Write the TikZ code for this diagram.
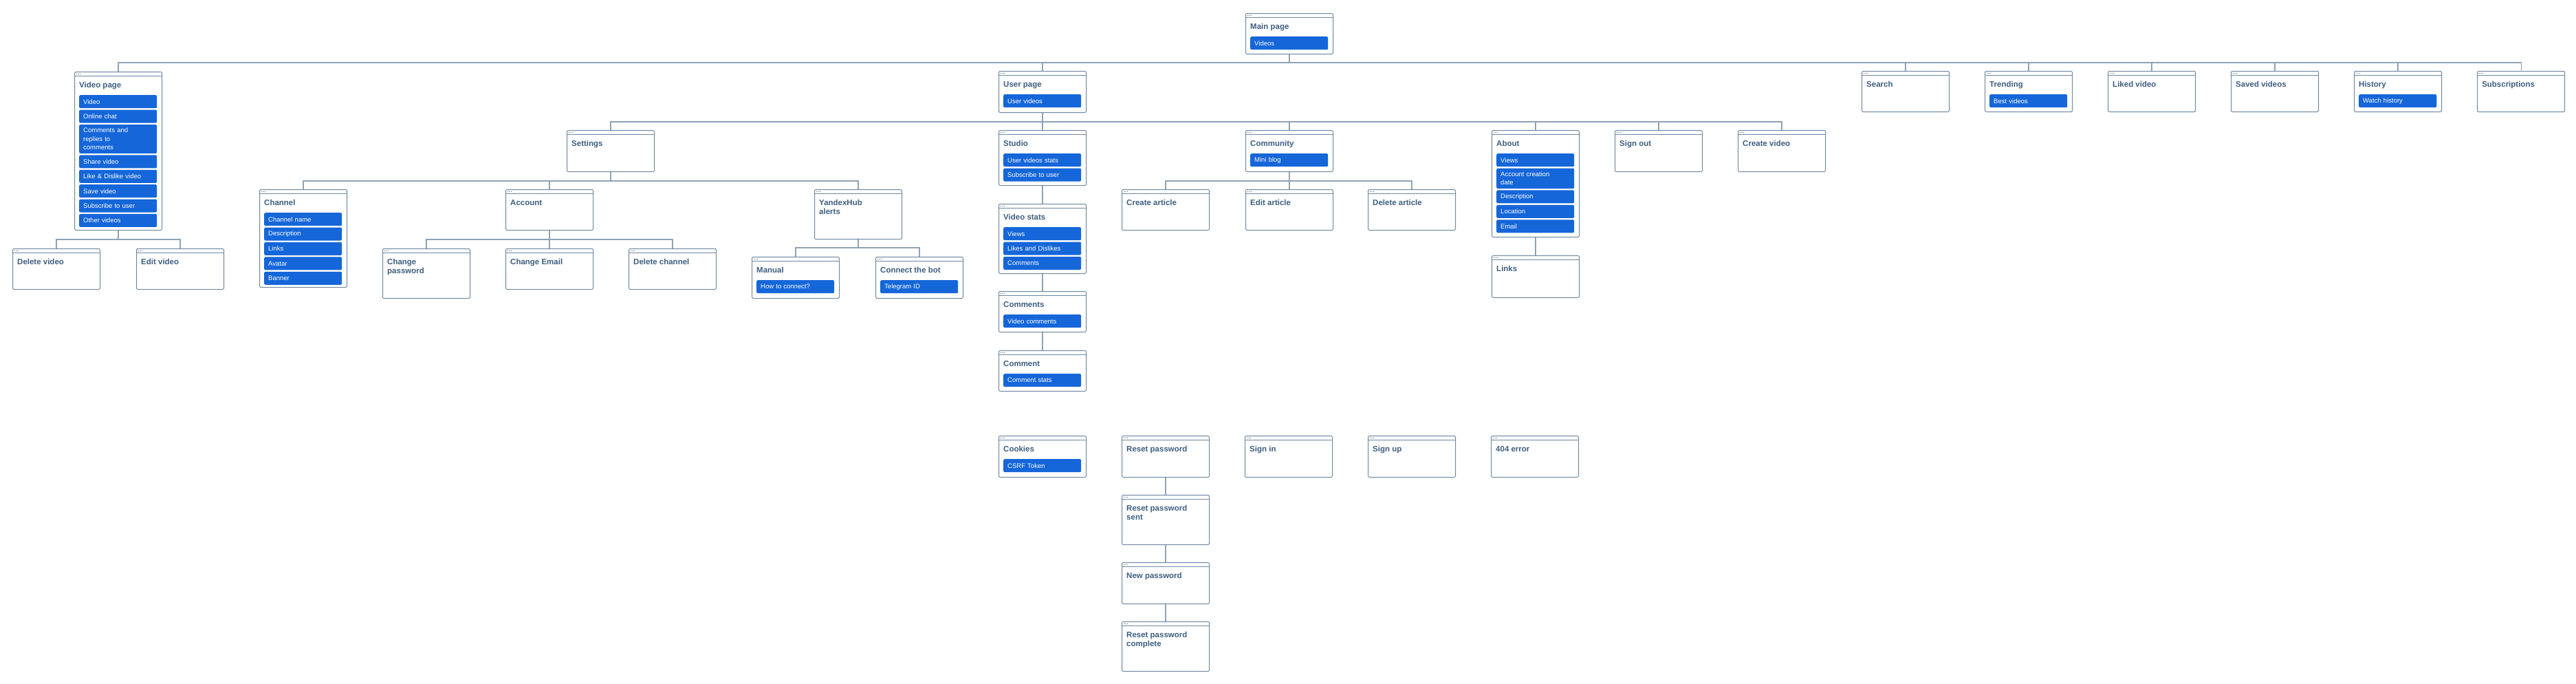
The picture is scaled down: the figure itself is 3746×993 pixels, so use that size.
\documentclass[tikz,border=0pt]{standalone}
\usepackage{xcolor}
\usepackage{fontspec}
\setmainfont{Liberation Sans}
\usetikzlibrary{positioning}

\definecolor{winline}{HTML}{6E88A1}
\definecolor{linkline}{HTML}{8DA3B6}
\definecolor{titleblue}{HTML}{3E5E80}
\definecolor{itemblue}{HTML}{1566D9}

\tikzset{
  win/.style={draw=winline, line width=1pt, fill=white, rounded corners=1.5pt,
    anchor=north west, inner sep=0pt, minimum width=127pt,
    path picture={
      \draw[winline, line width=0.8pt] ([yshift=-6pt]path picture bounding box.north west)
        -- ([yshift=-6pt]path picture bounding box.north east);
      \foreach \d in {3,5.5,8}
        \fill[winline] ([xshift=\d pt, yshift=-3pt]path picture bounding box.north west) circle (0.75pt);
    }},
  wintitle/.style={inner sep=0pt, align=left, text=titleblue,
    font=\fontsize{11.5}{12.5}\selectfont\bfseries},
  itm/.style={fill=itemblue, rounded corners=2pt, text=white, align=left,
    text width=101pt, inner xsep=6pt, inner ysep=5pt, minimum height=19pt,
    font=\fontsize{9.5}{12.5}\selectfont},
  link/.style={draw=linkline, line width=1.1pt},
}

% window: name, x, y, height, title
\newcommand\win[5]{%
  \node[win, minimum height=#4pt] (#1) at (#2,#3) {};
  \node[wintitle, below right=15pt and 7pt of #1.north west] (#1t) {#5};
}
% blue rows inside a window
\newcommand\itms[2]{%
  \foreach \t [count=\i, remember=\i as \j (initially 0)] in {#2}{
    \ifnum\i=1
      \node[itm, below right=34pt and 7pt of #1.north west] (#1-\i) {\t};
    \else
      \node[itm, below=2pt of #1-\j] (#1-\i) {\t};
    \fi
  }
}
\newcommand\branch[3]{\draw[link] (#1.south) -- ++(0,#3) -| (#2.north);}

\begin{document}
\begin{tikzpicture}[x=1pt, y=-1pt]
  \path[use as bounding box, fill=white] (0,0) rectangle (3746,993);

  %main page and first row
  \win{main}{1811}{19}{59}{Main page} \itms{main}{Videos}
  \win{video}{108}{104}{230}{Video page}
  \itms{video}{Video, Online chat, {Comments and\\replies to\\comments}, Share video,
    Like \& Dislike video, Save video, Subscribe to user, Other videos}
  \win{user}{1452}{103}{60}{User page} \itms{user}{User videos}
  \win{search}{2707}{103}{59}{Search}
  \win{trend}{2886}{103}{59}{Trending} \itms{trend}{Best videos}
  \win{liked}{3065}{103}{59}{Liked video}
  \win{saved}{3244}{103}{59}{Saved videos}
  \win{hist}{3423}{103}{59}{History} \itms{hist}{Watch history}
  \win{subs}{3602}{103}{59}{Subscriptions}

  %video page
  \win{delvid}{18}{361}{59}{Delete video}
  \win{editvid}{198}{361}{59}{Edit video}

  %user page
  \win{settings}{824}{189}{60}{Settings}
  \win{studio}{1452}{189}{80}{Studio} \itms{studio}{User videos stats, Subscribe to user}
  \win{comm}{1811}{189}{60}{Community} \itms{comm}{Mini blog}
  \win{about}{2169}{189}{155}{About}
  \itms{about}{Views, {Account creation\\date}, Description, Location, Email}
  \win{signout}{2348}{189}{60}{Sign out}
  \win{newvid}{2527}{189}{60}{Create video}

  %settings
  \win{channel}{377}{275}{142}{Channel}
  \itms{channel}{Channel name, Description, Links, Avatar, Banner}
  \win{account}{735}{275}{59}{Account}
  \win{yhub}{1184}{275}{72}{YandexHub\\alerts}
  \win{chpass}{556}{361}{72}{Change\\password}
  \win{chmail}{735}{361}{59}{Change Email}
  \win{delchan}{914}{361}{59}{Delete channel}
  \win{manual}{1093}{373}{60}{Manual} \itms{manual}{How to connect?}
  \win{bot}{1273}{373}{60}{Connect the bot} \itms{bot}{Telegram ID}

  %studio
  \win{vstats}{1452}{296}{101}{Video stats} \itms{vstats}{Views, Likes and Dislikes, Comments}
  \win{comments}{1452}{423}{59}{Comments} \itms{comments}{Video comments}
  \win{comment}{1452}{509}{59}{Comment} \itms{comment}{Comment stats}

  %community and about
  \win{newart}{1631}{275}{59}{Create article}
  \win{editart}{1811}{275}{59}{Edit article}
  \win{delart}{1989}{275}{59}{Delete article}
  \win{links}{2169}{371}{61}{Links}

  %separate pages
  \win{cookies}{1452}{633}{60}{Cookies} \itms{cookies}{CSRF Token}
  \win{reset}{1631}{633}{60}{Reset password}
  \win{signin}{1810}{633}{60}{Sign in}
  \win{signup}{1989}{633}{60}{Sign up}
  \win{err}{2168}{633}{60}{404 error}
  \win{rsent}{1631}{719}{72}{Reset password\\sent}
  \win{newpass}{1631}{817}{60}{New password}
  \win{rdone}{1631}{903}{72}{Reset password\\complete}

  %connectors
  \foreach \c in {video,user,search,trend,liked,saved,hist,subs} {\branch{main}{\c}{12}}
  \foreach \c in {delvid,editvid} {\branch{video}{\c}{13}}
  \foreach \c in {settings,studio,comm,about,signout,newvid} {\branch{user}{\c}{13}}
  \foreach \c in {channel,account,yhub} {\branch{settings}{\c}{13}}
  \foreach \c in {chpass,chmail,delchan} {\branch{account}{\c}{13}}
  \foreach \c in {manual,bot} {\branch{yhub}{\c}{12}}
  \foreach \c in {newart,editart,delart} {\branch{comm}{\c}{13}}
  \draw[link] (studio.south) -- (vstats.north);
  \draw[link] (vstats.south) -- (comments.north);
  \draw[link] (comments.south) -- (comment.north);
  \draw[link] (about.south) -- (links.north);
  \draw[link] (reset.south) -- (rsent.north);
  \draw[link] (rsent.south) -- (newpass.north);
  \draw[link] (newpass.south) -- (rdone.north);
\end{tikzpicture}
\end{document}
